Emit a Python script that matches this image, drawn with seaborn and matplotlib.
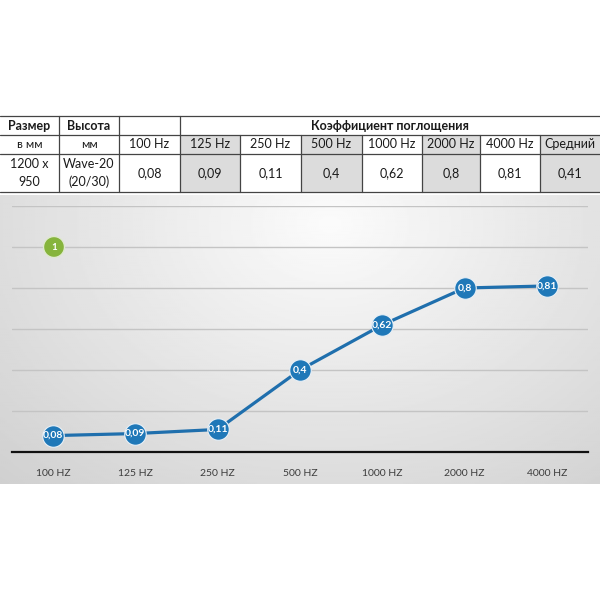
import numpy as np
import pandas as pd
import matplotlib
matplotlib.use("Agg")
import matplotlib.pyplot as plt
import seaborn as sns
from matplotlib.patches import Rectangle, Circle

# ---- data ----
categories = ["100 HZ", "125 HZ", "250 HZ", "500 HZ", "1000 HZ", "2000 HZ", "4000 HZ"]
values = [0.08, 0.09, 0.11, 0.4, 0.62, 0.8, 0.81]
value_labels = ["0,08", "0,09", "0,11", "0,4", "0,62", "0,8", "0,81"]
table_freqs = ["100 Hz", "125 Hz", "250 Hz", "500 Hz", "1000 Hz", "2000 Hz", "4000 Hz", "Средний"]
table_vals = ["0,08", "0,09", "0,11", "0,4", "0,62", "0,8", "0,81", "0,41"]
table_head = ["Размер", "Высота"]
table_sub = ["в мм", "мм"]
size_text = ["1200 x", "950"]
model_text = ["Wave-20", "(20/30)"]
group_title = "Коэффициент поглощения"
marker_label = "1"

sns.set_theme(style="white")
plt.rcParams["font.family"] = ["Lato", "DejaVu Sans"]

W, H = 600, 600
fig = plt.figure(figsize=(6, 6), dpi=100)
fig.patch.set_facecolor("white")

# ---- gradient background panel ----
bg_top, bg_bot = 195, 484
bg = fig.add_axes([0, 1 - bg_bot / H, 1, (bg_bot - bg_top) / H], zorder=0)
yy, xx = np.mgrid[0:1:200j, 0:1:300j]
d = np.sqrt(((xx - 0.55) / 0.7) ** 2 + ((yy - 0.1) / 1.1) ** 2)
g = 0.985 - 0.15 * np.clip(d, 0, 1.2)
bg.imshow(g, cmap="gray", vmin=0, vmax=1, aspect="auto", extent=[0, 1, 0, 1])
bg.set_axis_off()

# ---- line chart ----
x0, x1 = 12, 588
y_zero, y_top = 452, 206
ax = fig.add_axes([x0 / W, 1 - y_zero / H, (x1 - x0) / W, (y_zero - y_top) / H], zorder=2)
ax.patch.set_alpha(0)
df = pd.DataFrame({"freq": categories, "value": values})
sns.lineplot(data=df, x="freq", y="value", ax=ax, color="#1f6fad", linewidth=2.3,
             marker="o", markersize=15.5, markerfacecolor="#1f78b8",
             markeredgecolor="#e8f0f7", markeredgewidth=0.8, sort=False, zorder=4)
ax.set_xlim(-0.5, len(categories) - 0.5)
ax.set_ylim(0, 1.2)
ax.set_yticks([0.2, 0.4, 0.6, 0.8, 1.0, 1.2])
ax.yaxis.grid(True, color="#c4c4c4", linewidth=1.0)
ax.set_axisbelow(True)
ax.tick_params(axis="y", left=False, labelleft=False)
ax.tick_params(axis="x", bottom=False, labelsize=7.5, colors="#3c3c3c", pad=6)
ax.set_xlabel("")
ax.set_ylabel("")
for s in ["top", "right", "left"]:
    ax.spines[s].set_visible(False)
ax.spines["bottom"].set_color("#111111")
ax.spines["bottom"].set_linewidth(1.6)
for i, (v, lab) in enumerate(zip(values, value_labels)):
    ax.text(i, v, lab, color="white", fontsize=7.5, fontweight="bold",
            ha="center", va="center", zorder=6)

# green numbered marker
ov = fig.add_axes([0, 0, 1, 1], zorder=3)
ov.set_xlim(0, W)
ov.set_ylim(H, 0)
ov.set_axis_off()
ov.add_patch(Circle((54, 247), 10.5, facecolor="#86b43c", edgecolor="#dfe9cf", linewidth=1))
ov.text(54, 247.5, marker_label, color="white", fontsize=7, fontweight="bold",
        ha="center", va="center")

# ---- table ----
cols = [0, 59, 119, 180, 240, 301, 362, 422, 480, 540, 600]
r0, r1, r2, r3 = 116, 135, 154, 192
gray_cols = [1, 3, 5, 7]  # indices into table_freqs
for gi in gray_cols:
    ov.add_patch(Rectangle((cols[gi + 2], r1), cols[gi + 3] - cols[gi + 2], r3 - r1,
                           facecolor="#dcdcdc", edgecolor="none", zorder=1))
lc = "#444444"
lw = 0.9
for y in [r0, r1, r2, r3]:
    ov.plot([0, W], [y, y], color=lc, lw=lw, zorder=2)
for c in cols[1:4]:
    ov.plot([c, c], [r0, r3], color=lc, lw=lw, zorder=2)
for c in cols[4:-1]:
    ov.plot([c, c], [r1, r3], color=lc, lw=lw, zorder=2)

fs = 9
tc = "#1a1a1a"
ov.text((cols[0] + cols[1]) / 2, (r0 + r1) / 2, table_head[0], fontsize=fs, fontweight="bold", ha="center", va="center", color=tc)
ov.text((cols[1] + cols[2]) / 2, (r0 + r1) / 2, table_head[1], fontsize=fs, fontweight="bold", ha="center", va="center", color=tc)
ov.text(390, (r0 + r1) / 2, group_title, fontsize=fs, fontweight="bold", ha="center", va="center", color=tc)
ov.text((cols[0] + cols[1]) / 2, (r1 + r2) / 2, table_sub[0], fontsize=fs - 0.5, ha="center", va="center", color=tc)
ov.text((cols[1] + cols[2]) / 2, (r1 + r2) / 2, table_sub[1], fontsize=fs - 0.5, ha="center", va="center", color=tc)
for i, (f, v) in enumerate(zip(table_freqs, table_vals)):
    cx = (cols[i + 2] + cols[i + 3]) / 2
    ov.text(cx, (r1 + r2) / 2, f, fontsize=fs, ha="center", va="center", color=tc)
    ov.text(cx, (r2 + r3) / 2, v, fontsize=fs, ha="center", va="center", color=tc)
ov.text((cols[0] + cols[1]) / 2, (r2 + r3) / 2 - 9, size_text[0], fontsize=fs, ha="center", va="center", color=tc)
ov.text((cols[0] + cols[1]) / 2, (r2 + r3) / 2 + 9, size_text[1], fontsize=fs, ha="center", va="center", color=tc)
ov.text((cols[1] + cols[2]) / 2, (r2 + r3) / 2 - 9, model_text[0], fontsize=fs, ha="center", va="center", color=tc)
ov.text((cols[1] + cols[2]) / 2, (r2 + r3) / 2 + 9, model_text[1], fontsize=fs, ha="center", va="center", color=tc)

fig.savefig("out.png", dpi=100, facecolor="white")
